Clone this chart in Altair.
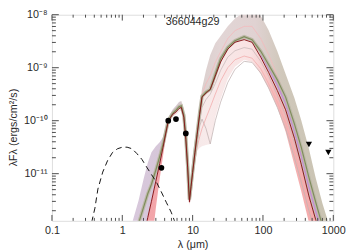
import altair as alt
import pandas as pd
import numpy as np

# ---------------- data (log10 of lambda*F_lambda in ergs/cm^2/s) ----------------
wave = [1.2, 1.4, 1.7, 2.0, 2.3, 2.6, 3.0, 3.4, 3.8, 4.5, 5.2, 5.8, 6.4, 6.9, 7.5, 8.0, 8.5,
        9.0, 9.5, 10, 10.8, 11.6, 12.6, 13.6, 15.5, 17.8, 21, 25, 31.6, 40, 54, 70, 93,
        120, 160, 210, 280, 350, 450, 560, 700, 850, 1000]
fan_upper = [-12.195, -11.90, -11.51, -11.11, -10.80, -10.595, -10.48, -10.405, -10.31, -9.95,
             -9.79, -9.72, -9.645, -9.63, -9.79, -10.21, -10.75, -11.38, -11.02, -10.66, -10.35,
             -10.12, -9.75, -9.39, -9.05, -8.76, -8.54, -8.40, -8.22, -8.07, -7.95, -7.91, -8.02,
             -8.29, -8.69, -9.12, -9.57, -9.99, -10.53, -11.07, -11.56, -11.92, -12.23]
best_fit = [-13.66, -13.23, -12.68, -12.22, -11.83, -11.52, -11.14, -10.81, -10.50, -10.01,
            -9.88, -9.835, -9.77, -9.75, -9.935, -10.35, -10.89, -11.53, -11.24, -10.98, -10.60,
            -10.26, -9.88, -9.555, -9.48, -9.41, -9.16, -8.89, -8.65, -8.52, -8.47, -8.52, -8.80,
            -9.085, -9.43, -9.795, -10.33, -10.82, -11.42, -11.86, -12.29, -12.65, -13.0]
olive_fit = [-12.55, -12.28, -11.94, -11.64, -11.38, -11.20, -10.93, -10.68, -10.44, -10.0,
             -9.86, -9.80, -9.735, -9.72, -9.90, -10.31, -10.86, -11.49, -11.22, -10.97, -10.59,
             -10.24, -9.845, -9.54, -9.46, -9.41, -9.12, -8.83, -8.615, -8.49, -8.415, -8.47, -8.69,
             -8.94, -9.23, -9.555, -10.06, -10.50, -11.07, -11.53, -11.98, -12.38, -12.70]
fan_lower = [-15.0, -14.8, -14.27, -13.53, -12.90, -12.36, -11.65, -11.10, -10.66, -10.04,
             -9.92, -9.88, -9.83, -9.81, -9.99, -10.42, -10.97, -11.60, -11.47, -11.07, -10.785,
             -10.57, -10.51, -10.48, -10.46, -10.44, -9.93, -9.59, -9.21, -8.98, -8.85, -8.89, -9.12,
             -9.39, -9.75, -10.21, -10.84, -11.33, -11.92, -12.38, -12.75, -13.05, -13.3]

sub_wave = [9.0, 9.5, 10, 10.8, 11.6, 12.6, 13.6, 15.5, 17.8, 21, 25, 31.6, 40, 54, 70, 93,
            120, 160, 210, 280, 350, 450, 560, 700, 850, 1000]
gray_a = [-11.55, -11.4, -11.1, -10.7, -10.4, -10.1, -9.97, -10.15, -10.44, -10.0, -9.65, -9.28,
          -9.03, -8.88, -8.9, -9.1, -9.38, -9.75, -10.15, -10.7, -11.15, -11.7, -12.1, -12.55,
          -12.9, -13.2]
gray_b = [-11.5, -11.25, -11.0, -10.65, -10.35, -10.0, -9.75, -9.6, -9.5, -9.3, -9.05, -8.8,
          -8.68, -8.62, -8.65, -8.88, -9.15, -9.52, -9.9, -10.42, -10.85, -11.4, -11.85, -12.3,
          -12.65, -12.95]
pink_a = [-11.5, -11.2, -10.95, -10.55, -10.2, -9.8, -9.5, -9.3, -9.15, -8.9, -8.7, -8.45,
          -8.3, -8.22, -8.22, -8.45, -8.75, -9.15, -9.55, -10.05, -10.5, -11.05, -11.5, -11.95,
          -12.3, -12.6]
pink_b = [-11.55, -11.3, -11.05, -10.75, -10.5, -10.3, -10.15, -9.95, -9.75, -9.5, -9.25, -9.0,
          -8.85, -8.78, -8.82, -9.02, -9.3, -9.65, -10.05, -10.6, -11.05, -11.6, -12.05, -12.5,
          -12.85, -13.15]

violet_wave = [93, 120, 160, 210, 280, 350, 450, 560, 700, 850, 1000]
violet_fit = [-8.75, -9.01, -9.33, -9.68, -10.2, -10.66, -11.25, -11.7, -12.14, -12.52, -12.85]

phot_wave = [0.35, 0.371, 0.408, 0.45, 0.527, 0.619, 0.726, 0.853, 1.0, 1.17, 1.38, 1.61, 1.90,
             2.22, 2.61, 3.06, 3.59, 4.22, 4.95, 5.45, 6.0]
phot_flux = [-12.1, -11.89, -11.65, -11.29, -10.97, -10.75, -10.60, -10.53, -10.50, -10.50,
             -10.53, -10.62, -10.73, -10.875, -11.02, -11.16, -11.345, -11.54, -11.725, -11.87,
             -12.05]

obs_wave = [3.6, 4.5, 5.8, 8.0]
obs_flux = [-10.89, -10.0, -9.97, -10.24]
lim_wave = [450, 850]
lim_flux = [-10.45, -10.60]

source_name = ["366044g29"]
x_tick_values = [0.1, 1, 10, 100, 1000]
y_tick_values = [-11, -10, -9, -8]

# ---------------- layout ----------------
W, H = 288, 211
FONT = "Liberation Sans"
TXT = "#2a2a2a"
FRAME = "#4a4a4a"

xs = alt.Scale(type="log", domain=[0.1, 1000], nice=False)
ys = alt.Scale(domain=[-11.89, -8], nice=False, zero=False)

xaxis = alt.Axis(values=x_tick_values, format="~g", ticks=False, domain=False, grid=False,
                 labelFont=FONT, labelFontSize=11, labelColor=TXT, labelPadding=4,
                 labelFlush=False, labelOverlap=False,
                 title="λ (μm)", titleFont=FONT, titleFontSize=11, titleFontWeight="normal",
                 titleColor=TXT, titlePadding=3)
yaxis = alt.Axis(values=y_tick_values,
                 labelExpr="datum.value == -8 ? '10⁻⁸' : datum.value == -9 ? '10⁻⁹' : datum.value == -10 ? '10⁻¹⁰' : '10⁻¹¹'",
                 ticks=False, domain=False, grid=False,
                 labelFont=FONT, labelFontSize=11, labelColor=TXT, labelPadding=5,
                 labelFlush=False, labelOverlap=False,
                 title="λFλ (ergs/cm²/s)", titleFont=FONT, titleFontSize=11,
                 titleFontWeight="normal", titleColor=TXT, titleX=-34, titleY=115)


def X():
    return alt.X("wave:Q", scale=xs, axis=xaxis)


def Y(field="logf"):
    return alt.Y(f"{field}:Q", scale=ys, axis=yaxis)


grid = pd.DataFrame({"wave": wave, "up": fan_upper, "best": best_fit,
                     "olive": olive_fit, "low": fan_lower})

gray_grad = alt.Gradient(gradient="linear", x1=0, x2=1, y1=0, y2=0, stops=[
    alt.GradientStop(color="#d8c8dc", offset=0.0),
    alt.GradientStop(color="#d6c7d8", offset=0.2),
    alt.GradientStop(color="#d6cbc8", offset=0.28),
    alt.GradientStop(color="#e2d5d5", offset=0.45),
    alt.GradientStop(color="#e0d2d2", offset=0.62),
    alt.GradientStop(color="#d0c8bb", offset=0.75),
    alt.GradientStop(color="#c8c2b0", offset=1.0)])
pink_grad = alt.Gradient(gradient="linear", x1=0, x2=1, y1=0, y2=0, stops=[
    alt.GradientStop(color="#f2a0a6", offset=0.0),
    alt.GradientStop(color="#f3a8ac", offset=0.19),
    alt.GradientStop(color="#f4e8e8", offset=0.25),
    alt.GradientStop(color="#f8eaea", offset=0.4),
    alt.GradientStop(color="#f9e2e2", offset=0.6),
    alt.GradientStop(color="#f5b8b8", offset=0.72),
    alt.GradientStop(color="#f3a4a4", offset=1.0)])

gray_area = alt.Chart(grid).mark_area(fill=gray_grad, clip=True).encode(
    x=X(), y=Y("up"), y2=alt.Y2("best:Q"))
pink_area = alt.Chart(grid).mark_area(fill=pink_grad, clip=True).encode(
    x=X(), y=Y("best"), y2=alt.Y2("low:Q"))


def line_layer(w, f, color, width, dash=None):
    df = pd.DataFrame({"wave": w, "logf": f})
    kw = dict(color=color, strokeWidth=width, clip=True)
    if dash:
        kw["strokeDash"] = dash
    return alt.Chart(df).mark_line(**kw).encode(x=X(), y=Y())


layers = [
    gray_area, pink_area,
    line_layer(sub_wave, gray_a, "#c3b4b4", 0.8),
    line_layer(sub_wave, gray_b, "#c9baba", 0.8),
    line_layer(sub_wave, pink_a, "#f4b8bb", 0.8),
    line_layer(sub_wave, pink_b, "#f2acac", 0.8),
    line_layer(violet_wave, violet_fit, "#c48ed6", 1.6),
    line_layer(wave, olive_fit, "#bdb9a8", 3.5),
    line_layer(wave, olive_fit, "#7f8c5c", 1.2),
    line_layer(wave, best_fit, "#86161a", 1.0),
    line_layer(phot_wave, phot_flux, "#111111", 1.0, dash=[6, 4]),
]

obs = pd.DataFrame({"wave": obs_wave, "logf": obs_flux})
lim = pd.DataFrame({"wave": lim_wave, "logf": lim_flux})
layers.append(alt.Chart(obs).mark_point(shape="circle", filled=True, color="black",
                                        size=34, opacity=1).encode(x=X(), y=Y()))
layers.append(alt.Chart(lim).mark_point(shape="triangle-down", filled=True, color="black",
                                        size=40, opacity=1).encode(x=X(), y=Y()))

# inward ticks on all four sides
x_minor = [k * 10.0 ** n for n in range(-1, 3) for k in range(2, 10)]
y_minor = [float(np.log10(k)) + n for n in range(-12, -8) for k in range(2, 10)]
y_minor = [v for v in y_minor if -11.89 <= v <= -8]

xt_major = pd.DataFrame({"wave": x_tick_values})
xt_minor = pd.DataFrame({"wave": x_minor})
yt_major = pd.DataFrame({"logf": y_tick_values})
yt_minor = pd.DataFrame({"logf": y_minor})

for df, ln in [(xt_major, 6), (xt_minor, 3)]:
    layers.append(alt.Chart(df).mark_rule(color=FRAME, strokeWidth=1).encode(
        x=X(), y=alt.value(H), y2=alt.value(H - ln)))
    layers.append(alt.Chart(df).mark_rule(color=FRAME, strokeWidth=1).encode(
        x=X(), y=alt.value(0), y2=alt.value(ln)))
for df, ln in [(yt_major, 7), (yt_minor, 4)]:
    layers.append(alt.Chart(df).mark_rule(color=FRAME, strokeWidth=1).encode(
        y=Y(), x=alt.value(0), x2=alt.value(ln)))
    layers.append(alt.Chart(df).mark_rule(color=FRAME, strokeWidth=1).encode(
        y=Y(), x=alt.value(W), x2=alt.value(W - ln)))

# source name inside the plot frame
name_df = pd.DataFrame({"name": source_name})
layers.append(alt.Chart(name_df).mark_text(font=FONT, fontSize=11, color=TXT,
                                           baseline="middle", align="center").encode(
    text="name:N", x=alt.value(W / 2), y=alt.value(7.5)))

chart = alt.layer(*layers).properties(
    width=W, height=H,
    autosize=alt.AutoSizeParams(type="none"),
    padding={"left": 45, "top": 4, "right": 13, "bottom": 28},
).configure_view(stroke=FRAME, strokeWidth=1).configure(background="white")

chart.save("out.html", embed_options={"renderer": "svg", "actions": False})
